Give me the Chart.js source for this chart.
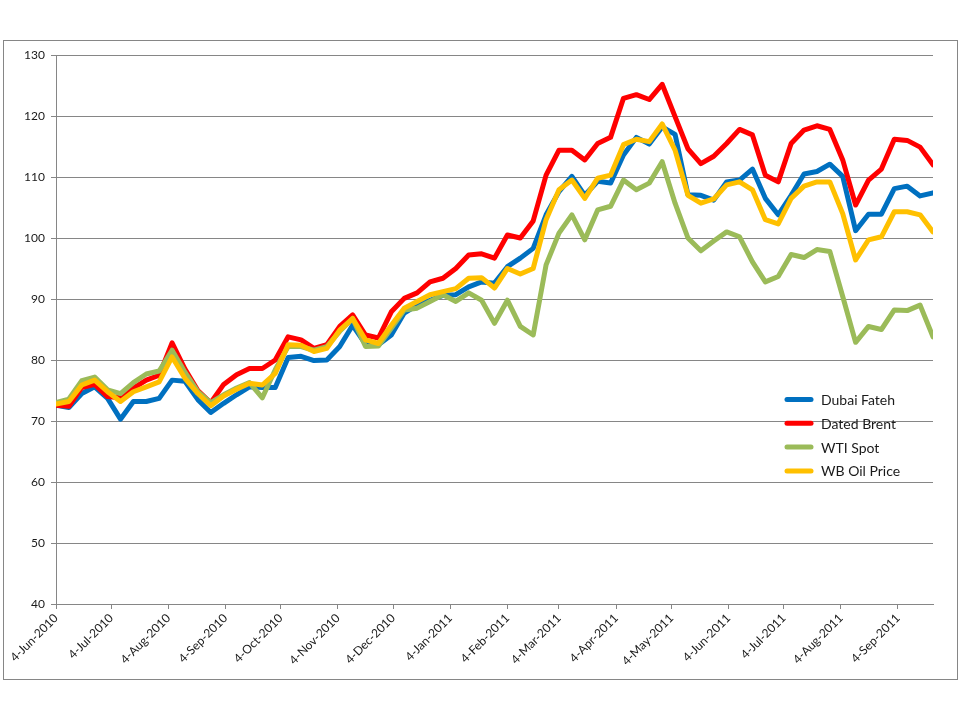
<!DOCTYPE html>
<html lang="en">
<head>
    <meta charset="UTF-8">
    <title>Oil Prices</title>
    <script src="https://cdn.jsdelivr.net/npm/chart.js"></script>
    <style>
        body { margin: 0; background: #fff; }
        #frame { position: absolute; left: 3px; top: 40px; width: 953px; height: 638px; border: 1px solid #868686; }
        #wrap { position: absolute; left: 0; top: 0; width: 960px; height: 720px; }
    </style>
</head>
<body>
    <div id="frame"></div>
    <div id="wrap"><canvas id="oilprices"></canvas></div>

<script type="text/javascript">

    // weekly observations (Fridays) starting 4-Jun-2010
    const firstWeek = Date.UTC(2010, 5, 4);
    const weekCount = 69;

    const tickLabels = [
        '4-Jun-2010', '4-Jul-2010', '4-Aug-2010', '4-Sep-2010', '4-Oct-2010', '4-Nov-2010',
        '4-Dec-2010', '4-Jan-2011', '4-Feb-2011', '4-Mar-2011', '4-Apr-2011', '4-May-2011',
        '4-Jun-2011', '4-Jul-2011', '4-Aug-2011', '4-Sep-2011'
    ];

    const dubaiFateh = [
        72.6, 72.2, 74.5, 75.6, 73.7, 70.3, 73.2, 73.2, 73.7, 76.7,
        76.5, 73.5, 71.4, 72.9, 74.3, 75.6, 75.5, 75.5, 80.4, 80.6,
        79.9, 80.0, 82.2, 85.7, 82.6, 82.5, 84.1, 87.7, 89.0, 89.8,
        90.6, 90.7, 92.0, 92.8, 92.6, 95.3, 96.7, 98.3, 103.8, 107.6,
        110.1, 107.0, 109.3, 109.0, 113.6, 116.5, 115.4, 118.2, 117.0, 107.1,
        107.0, 106.2, 109.2, 109.5, 111.3, 106.5, 103.8, 107.0, 110.5, 110.9,
        112.1, 110.1, 101.2, 103.9, 103.9, 108.1, 108.5, 106.9, 107.4
    ];
    const datedBrent = [
        72.6, 72.4, 75.5, 76.0, 74.0, 73.8, 75.4, 76.7, 77.5, 82.8,
        78.5, 75.0, 73.0, 76.0, 77.6, 78.6, 78.6, 80.0, 83.8, 83.3,
        81.9, 82.5, 85.5, 87.4, 84.1, 83.6, 87.9, 90.1, 91.0, 92.8,
        93.4, 95.0, 97.2, 97.4, 96.7, 100.5, 100.0, 102.8, 110.3, 114.4,
        114.4, 112.8, 115.5, 116.5, 122.9, 123.5, 122.7, 125.2, 119.9, 114.6,
        112.2, 113.4, 115.5, 117.8, 116.9, 110.3, 109.2, 115.5, 117.7, 118.4,
        117.8, 112.8, 105.4, 109.5, 111.3, 116.2, 116.0, 114.9, 112.0
    ];
    const wtiSpot = [
        73.0, 73.6, 76.6, 77.2, 75.1, 74.5, 76.3, 77.7, 78.2, 81.6,
        78.0, 74.8, 73.0, 74.3, 75.4, 76.3, 73.8, 78.4, 82.2, 82.2,
        81.6, 82.2, 84.7, 86.8, 82.2, 82.3, 85.2, 88.2, 88.5, 89.6,
        90.7, 89.6, 91.0, 89.8, 86.0, 89.8, 85.5, 84.1, 95.6, 100.8,
        103.8, 99.7, 104.6, 105.2, 109.5, 107.9, 109.0, 112.5, 105.7, 100.0,
        97.9, 99.5, 101.0, 100.2, 96.1, 92.8, 93.7, 97.3, 96.8, 98.1,
        97.8, 90.4, 82.9, 85.5, 85.0, 88.2, 88.1, 89.0, 83.8
    ];
    const wbOilPrice = [
        72.8, 73.2, 75.9, 76.7, 74.8, 73.2, 74.8, 75.6, 76.4, 80.5,
        77.0, 74.5, 72.5, 74.1, 75.2, 76.2, 75.9, 77.8, 82.5, 82.4,
        81.4, 81.9, 84.9, 86.8, 83.3, 82.7, 85.7, 88.5, 89.6, 90.7,
        91.2, 91.7, 93.4, 93.5, 91.8, 95.0, 94.1, 95.0, 103.0, 107.9,
        109.5, 106.5, 109.8, 110.3, 115.3, 116.2, 115.8, 118.7, 114.4, 107.0,
        105.7, 106.4, 108.7, 109.2, 107.9, 103.0, 102.3, 106.5, 108.5, 109.2,
        109.2, 104.0, 96.4, 99.7, 100.2, 104.3, 104.3, 103.8, 101.0
    ];

    const DAY = 86400000;
    const weekDays = [];
    for (let i = 0; i < weekCount; i++) {
        weekDays.push(i * 7);
    }
    // day offset of each month tick (the 4th of every month)
    const tickDays = tickLabels.map((lbl, k) => (Date.UTC(2010, 5 + k, 4) - firstWeek) / DAY);

    function toPoints(values) {
        return values.map((v, i) => ({ x: weekDays[i], y: v }));
    }

    const legendBox = {
        id: 'legendBox',
        afterDraw(chart) {
            const ctx = chart.ctx;
            ctx.save();
            chart.data.datasets.forEach((ds, i) => {
                const y = 399.5 + i * 23.8;
                ctx.strokeStyle = ds.borderColor;
                ctx.lineWidth = 5;
                ctx.lineCap = 'round';
                ctx.beginPath();
                ctx.moveTo(787, y);
                ctx.lineTo(811, y);
                ctx.stroke();
                ctx.fillStyle = '#1a1a1a';
                ctx.font = '14px Lato';
                ctx.textBaseline = 'middle';
                ctx.fillText(ds.label, 821, y + 1);
            });
            ctx.restore();
        }
    };

    Chart.defaults.font.family = 'Lato';
    Chart.defaults.color = '#1a1a1a';

    const lineStyle = {
        borderWidth: 5,
        pointRadius: 0,
        pointHoverRadius: 0,
        tension: 0,
        fill: false,
        borderJoinStyle: 'round',
        borderCapStyle: 'round'
    };

    new Chart(
        document.getElementById('oilprices').getContext('2d'),
        {
            type: 'line',
            data: {
                datasets: [
                    { label: 'Dubai Fateh', data: toPoints(dubaiFateh), borderColor: '#0070C0', order: 3, ...lineStyle },
                    { label: 'Dated Brent', data: toPoints(datedBrent), borderColor: '#FF0000', order: 2, ...lineStyle },
                    { label: 'WTI Spot', data: toPoints(wtiSpot), borderColor: '#9BBB59', order: 1, ...lineStyle },
                    { label: 'WB Oil Price', data: toPoints(wbOilPrice), borderColor: '#FFC000', order: 0, ...lineStyle }
                ]
            },
            options: {
                responsive: true,
                maintainAspectRatio: false,
                animation: false,
                layout: { padding: { top: 55, right: 27, left: 0, bottom: 0 } },
                plugins: {
                    legend: { display: false },
                    tooltip: { enabled: false }
                },
                scales: {
                    x: {
                        type: 'linear',
                        min: 0,
                        max: weekDays[weekDays.length - 1],
                        afterBuildTicks: (scale) => {
                            scale.ticks = tickDays.map(d => ({ value: d }));
                        },
                        afterFit: (scale) => { scale.height = 116; },
                        grid: { drawOnChartArea: false, drawTicks: true, tickLength: 5, color: '#868686' },
                        border: { color: '#868686', width: 1 },
                        ticks: {
                            autoSkip: false,
                            minRotation: 45,
                            maxRotation: 45,
                            padding: 2,
                            font: { size: 12 },
                            callback: (value) => {
                                const k = tickDays.indexOf(value);
                                return k >= 0 ? tickLabels[k] : '';
                            }
                        }
                    },
                    y: {
                        min: 40,
                        max: 130,
                        afterFit: (scale) => { scale.width = 56; },
                        grid: { color: '#868686', tickLength: 5 },
                        border: { color: '#868686', width: 1 },
                        ticks: { stepSize: 10, padding: 6, font: { size: 12 } }
                    }
                }
            },
            plugins: [legendBox]
        }
    );
</script>
</body>
</html>
